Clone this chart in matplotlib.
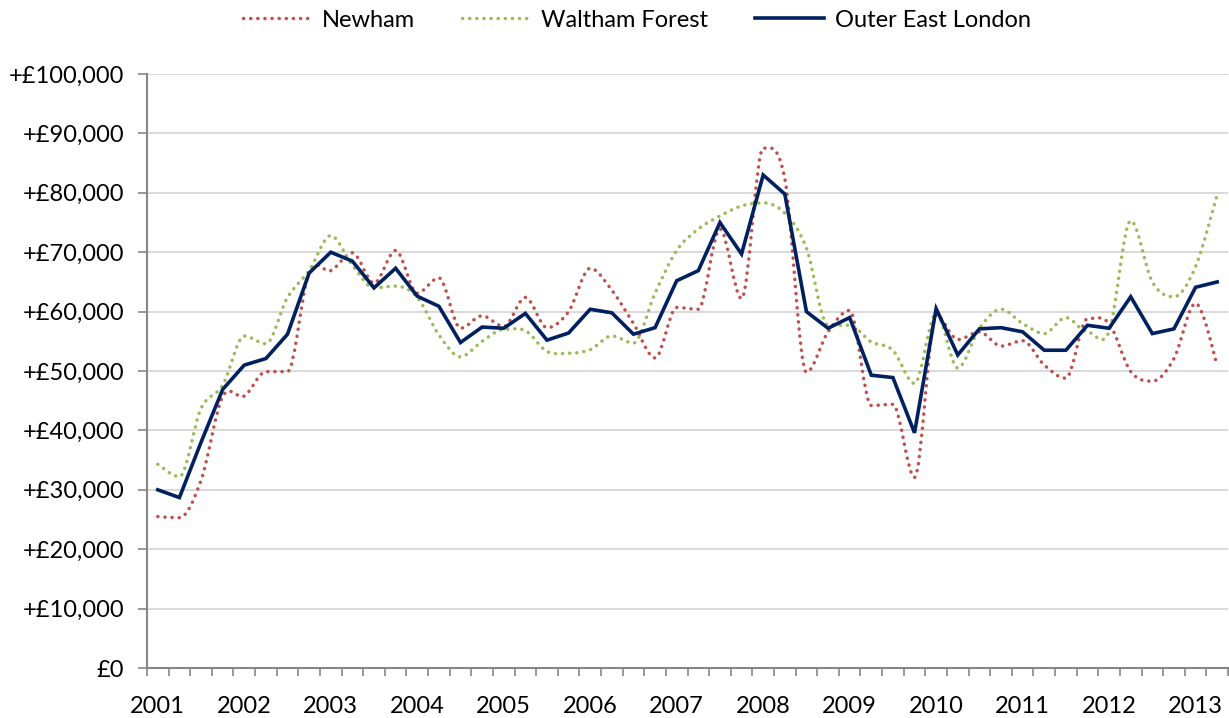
import matplotlib
matplotlib.use("Agg")
import matplotlib.pyplot as plt
from matplotlib.path import Path
from matplotlib.patches import PathPatch
from matplotlib.lines import Line2D
from matplotlib.ticker import FuncFormatter

plt.rcParams["font.family"] = ["Lato", "DejaVu Sans"]

# quarterly, 2001 Q1 .. 2013 Q2 (values in £000s)
years = [str(y) for y in range(2001, 2014)]

outer_east = [30.0, 28.7, 38.0, 46.9, 51.0, 52.1, 56.2, 66.5, 70.0, 68.5,
              64.0, 67.3, 62.6, 60.9, 54.8, 57.4, 57.2, 59.7, 55.2, 56.4,
              60.4, 59.8, 56.2, 57.3, 65.2, 66.9, 75.0, 69.7, 83.0, 79.8,
              60.0, 57.2, 59.0, 49.3, 48.9, 39.6, 60.5, 52.7, 57.1, 57.3,
              56.6, 53.5, 53.5, 57.7, 57.2, 62.5, 56.3, 57.1, 64.1, 65.0]

newham = [25.5, 25.3, 31.6, 45.7, 45.8, 49.9, 49.9, 66.7, 66.9, 69.9,
          64.8, 70.3, 63.1, 65.7, 57.2, 59.3, 57.5, 62.4, 57.3, 60.0,
          67.3, 63.6, 58.0, 52.2, 60.7, 60.4, 73.9, 62.2, 87.5, 82.4,
          49.8, 56.6, 60.2, 44.2, 44.4, 32.1, 59.4, 55.3, 56.6, 54.2,
          55.1, 51.0, 48.8, 58.8, 58.0, 49.9, 48.3, 52.1, 61.4, 51.0]

waltham = [34.3, 32.2, 43.7, 47.6, 55.9, 54.6, 62.4, 66.9, 72.8, 67.8,
           64.0, 64.3, 62.4, 56.1, 52.4, 55.0, 57.0, 56.8, 53.3, 53.0,
           53.6, 55.9, 54.7, 63.1, 70.3, 73.9, 76.1, 77.8, 78.3, 76.6,
           70.7, 57.7, 57.7, 54.9, 53.5, 47.9, 59.7, 50.5, 57.2, 60.4,
           58.0, 56.3, 59.0, 56.6, 56.7, 75.3, 65.0, 62.5, 67.6, 79.7]

RED = "#C0504D"
GREEN = "#9BBB59"
NAVY = "#002060"
GREY = "#868686"


def smooth_path(xs, ys):
    # smoothed line (cubic bezier through every point, flat at peaks/troughs)
    n = len(xs)
    tang = []
    for i in range(n):
        a = max(i - 1, 0)
        b = min(i + 1, n - 1)
        if 0 < i < n - 1 and (ys[i] - ys[a]) * (ys[b] - ys[i]) <= 0:
            tang.append((xs[b] - xs[a], 0.0))
        else:
            tang.append((xs[b] - xs[a], ys[b] - ys[a]))
    verts = [(xs[0], ys[0])]
    codes = [Path.MOVETO]
    for i in range(n - 1):
        c1 = (xs[i] + tang[i][0] / 6, ys[i] + tang[i][1] / 6)
        c2 = (xs[i + 1] - tang[i + 1][0] / 6, ys[i + 1] - tang[i + 1][1] / 6)
        verts += [c1, c2, (xs[i + 1], ys[i + 1])]
        codes += [Path.CURVE4] * 3
    return Path(verts, codes)


fig = plt.figure(figsize=(12.29, 7.18), dpi=100)
ax = fig.add_axes([0.1196, 0.0696, 0.8796, 0.8273])

x = list(range(len(outer_east)))
dots = (0, (0.05, 2.0))

for vals, col in [(newham, RED), (waltham, GREEN)]:
    ys = [v * 1000 for v in vals]
    ax.add_patch(PathPatch(smooth_path(x, ys), fill=False, edgecolor=col,
                           lw=2.5, linestyle=dots, capstyle="round", zorder=3))

ax.plot(x, [v * 1000 for v in outer_east], color=NAVY, lw=2.6, zorder=4,
        solid_joinstyle="miter")

ax.set_xlim(-0.5, len(x) - 0.5)
ax.set_ylim(0, 100000)
ax.set_yticks(range(0, 100001, 10000))
ax.yaxis.set_major_formatter(FuncFormatter(
    lambda v, p: "£0" if v == 0 else "+£{:,.0f}".format(v)))
ax.grid(axis="y", color="#D9D9D9", lw=1.4)
ax.set_axisbelow(True)

ax.set_xticks(range(0, len(x), 4))
ax.set_xticklabels(years)
ax.set_xticks([i - 0.5 for i in range(len(x) + 1)], minor=True)
ax.tick_params(axis="x", which="major", length=0, pad=20, labelsize=17)
ax.tick_params(axis="x", which="minor", length=6, color=GREY, width=1.2)
ax.tick_params(axis="y", length=6.5, color=GREY, width=1.2, pad=10, labelsize=17)

for s in ["top", "right"]:
    ax.spines[s].set_visible(False)
for s in ["left", "bottom"]:
    ax.spines[s].set_color(GREY)
    ax.spines[s].set_linewidth(1.5)

handles = [
    Line2D([], [], color=RED, lw=2.5, linestyle=dots, dash_capstyle="round"),
    Line2D([], [], color=GREEN, lw=2.5, linestyle=dots, dash_capstyle="round"),
    Line2D([], [], color=NAVY, lw=2.6),
]
fig.legend(handles, ["Newham", "Waltham Forest", "Outer East London"],
           loc="center", bbox_to_anchor=(0.518, 0.972), ncol=3, frameon=False,
           fontsize=17, handlelength=2.9, columnspacing=2.0, handletextpad=0.45)

fig.savefig("out.png", dpi=100)
